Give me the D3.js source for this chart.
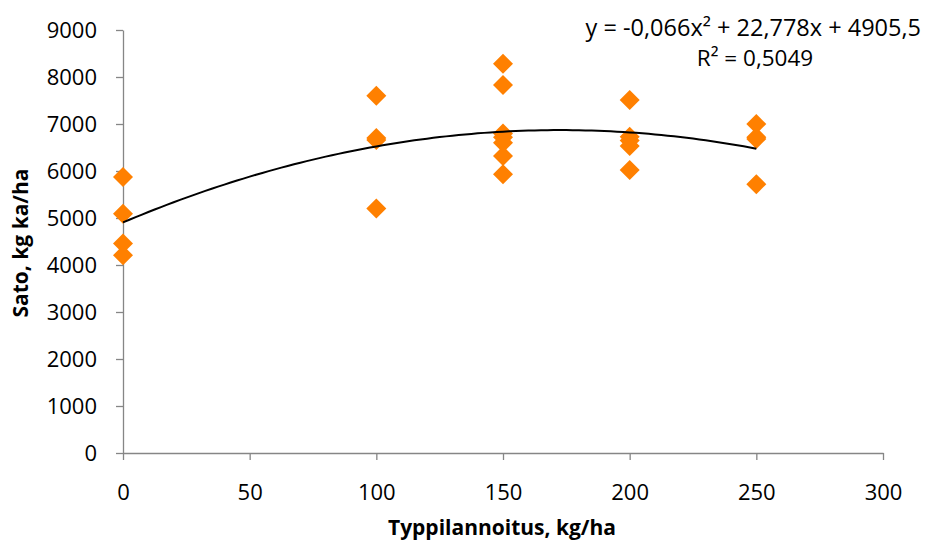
<!DOCTYPE html>
<html><head><meta charset="utf-8">
<script src="https://cdn.jsdelivr.net/npm/d3@7"></script>
<style>body{margin:0;background:#fff}svg{display:block}text{font-family:"Open Sans","Noto Sans",sans-serif}</style>
</head><body>
<svg id="c" width="925" height="541"></svg>
<script>
const nitrogen = [0,0,0,0, 100,100,100,100, 150,150,150,150,150,150,150, 200,200,200,200,200, 250,250,250,250];
const yieldKg  = [5870,5090,4460,4210, 7600,6700,6660,5200, 8280,7830,6800,6720,6600,6320,5930, 7510,6730,6650,6530,6020, 7000,6720,6680,5720];
const xTicks = [0,50,100,150,200,250,300];
const yTicks = [0,1000,2000,3000,4000,5000,6000,7000,8000,9000];
const trendCoef = [-0.066, 22.778, 4905.5];
const eqText = "y = -0,066x² + 22,778x + 4905,5";
const r2Text = "R² = 0,5049";

const pts = nitrogen.map((x,i)=>({x, y:yieldKg[i]}));

const svg = d3.select("#c");
const x = d3.scaleLinear().domain([0,300]).range([123,883]);
const y = d3.scaleLinear().domain([0,9000]).range([453,30]);
const axisCol = "#868686";

const gx = svg.append("g").attr("transform","translate(0,453)")
  .call(d3.axisBottom(x).tickValues(xTicks).tickFormat(d3.format("d")).tickSize(7).tickSizeOuter(0).tickPadding(24));
const gy = svg.append("g").attr("transform","translate(123,0)")
  .call(d3.axisLeft(y).tickValues(yTicks).tickFormat(d3.format("d")).tickSize(7).tickSizeOuter(0).tickPadding(19));
[gx,gy].forEach(g=>{
  g.select(".domain").attr("stroke",axisCol).attr("stroke-width",1.3);
  g.selectAll(".tick line").attr("stroke",axisCol).attr("stroke-width",1.3);
  g.selectAll(".tick text").attr("fill","#000").style("font-size","22px").style("font-family",'"Open Sans",sans-serif');
});

// points
svg.append("g").selectAll("path").data(pts).join("path")
  .attr("d", d3.symbol(d3.symbolSquare, 200))
  .attr("transform", d=>`translate(${x(d.x)},${y(d.y)}) rotate(45)`)
  .attr("fill","#FF8000");

// trendline
const xs = d3.range(0,250.5,2.5);
const f = v=>trendCoef[0]*v*v+trendCoef[1]*v+trendCoef[2];
svg.append("path").datum(xs)
  .attr("d", d3.line().x(d=>x(d)).y(d=>y(f(d))))
  .attr("fill","none").attr("stroke","#000").attr("stroke-width",2);

// equation
svg.append("text").attr("x",921).attr("y",36).attr("text-anchor","end")
  .style("font-size","23.5px").text(eqText);
svg.append("text").attr("x",755).attr("y",66).attr("text-anchor","middle")
  .style("font-size","22.5px").text(r2Text);

// titles
svg.append("text").attr("x",502).attr("y",535).attr("text-anchor","middle")
  .style("font-size","21px").style("font-weight","bold").text("Typpilannoitus, kg/ha");
svg.append("text").attr("transform","translate(28,243) rotate(-90)").attr("text-anchor","middle")
  .style("font-size","21px").style("font-weight","bold").text("Sato, kg ka/ha");
</script>
</body></html>
